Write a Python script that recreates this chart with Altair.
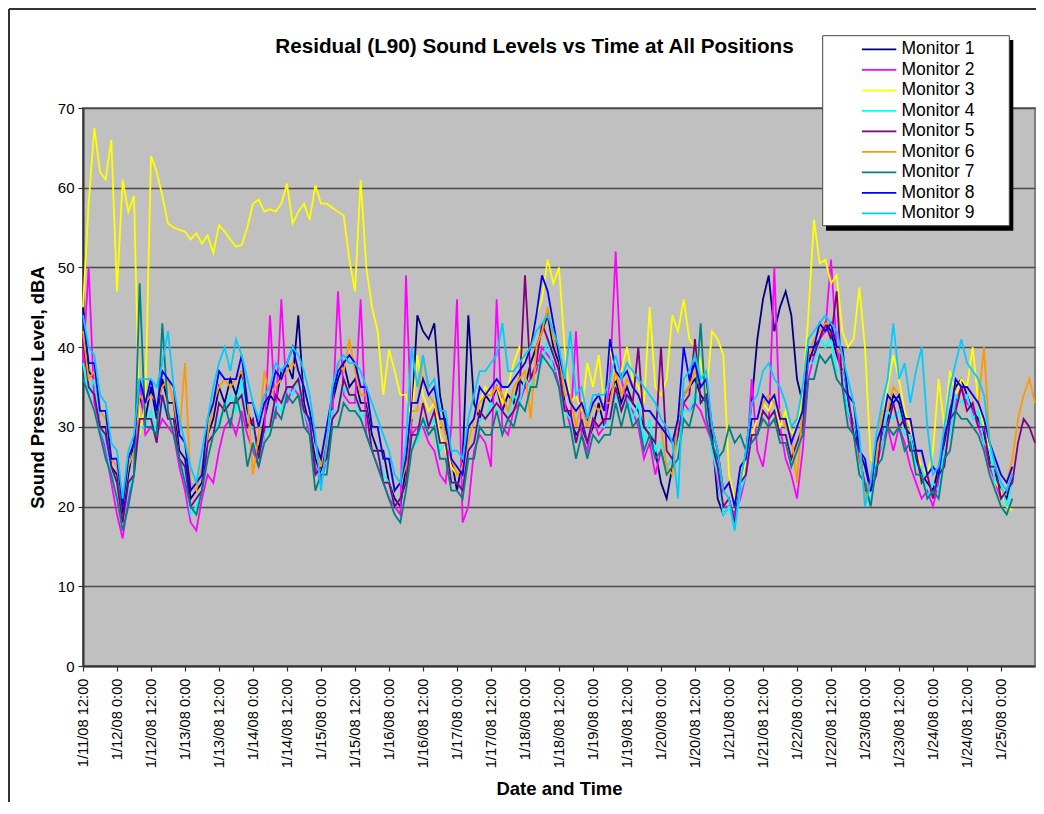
import altair as alt
import pandas as pd

FONT = "Liberation Sans, Arial, sans-serif"

TITLE = "Residual (L90) Sound Levels vs Time at All Positions"
X_TITLE = "Date and Time"
Y_TITLE = "Sound Pressure Level, dBA"

SERIES = ["Monitor 1", "Monitor 2", "Monitor 3", "Monitor 4", "Monitor 5",
          "Monitor 6", "Monitor 7", "Monitor 8", "Monitor 9"]
COLORS = ["#000080", "#FF00FF", "#FFFF00", "#00FFFF", "#800080",
          "#FF9900", "#008080", "#0000FF", "#00CCFF"]

# hours after 1/11/08 12:00, one reading every 2 hours
HOURS = list(range(0, 337, 2))

TICK_HOURS = [0, 12, 24, 36, 48, 60, 72, 84, 96, 108, 120, 132, 144, 156,
              168, 180, 192, 204, 216, 228, 240, 252, 264, 276, 288, 300, 312, 324]
TICK_LABELS = ["1/11/08 12:00", "1/12/08 0:00", "1/12/08 12:00", "1/13/08 0:00",
               "1/13/08 12:00", "1/14/08 0:00", "1/14/08 12:00", "1/15/08 0:00",
               "1/15/08 12:00", "1/16/08 0:00", "1/16/08 12:00", "1/17/08 0:00",
               "1/17/08 12:00", "1/18/08 0:00", "1/18/08 12:00", "1/19/08 0:00",
               "1/19/08 12:00", "1/20/08 0:00", "1/20/08 12:00", "1/21/08 0:00",
               "1/21/08 12:00", "1/22/08 0:00", "1/22/08 12:00", "1/23/08 0:00",
               "1/23/08 12:00", "1/24/08 0:00", "1/24/08 12:00", "1/25/08 0:00"]
Y_TICKS = [0, 10, 20, 30, 40, 50, 60, 70]

M1 = [45,37,36,30,30,25,24,19,24,28,34,31,
      35,31,36,33,33,27,26,21,22,23,29,31,
      35,33,36,34,37,32,30,27,31,34,33,37,
      38,36,44,33,30,26,24,29,33,36,38,35,
      36,33,33,29,27,27,23,21,20,25,31,44,
      42,41,43,34,30,26,22,26,44,33,31,34,
      33,35,32,34,33,36,35,38,40,42,44,40,
      38,33,31,29,30,28,30,33,30,34,36,33,
      35,33,32,30,29,27,23,21,25,31,34,35,
      36,34,33,29,21,19,20,19,22,27,33,41,
      46,49,42,45,47,44,36,33,38,40,41,43,
      42,39,37,33,30,27,25,22,26,29,31,34,
      33,30,29,26,24,23,22,25,28,32,35,36,
      34,32,31,29,26,24,22,21,24]

M2 = [38,50,33,30,27,23,19,16,21,24,36,29,
      30,29,31,30,29,25,22,18,17,21,24,23,
      27,30,31,29,32,29,27,25,29,44,31,46,
      33,35,34,32,29,25,23,26,31,47,34,33,
      33,46,29,27,25,23,21,20,19,49,29,30,
      30,28,27,24,23,30,46,18,20,27,29,28,
      25,46,30,29,32,33,35,36,37,40,39,38,
      35,33,30,42,29,27,31,29,30,36,52,36,
      33,32,30,26,28,24,27,25,26,29,33,32,
      33,32,30,28,23,20,20,19,21,24,36,27,
      25,30,50,30,26,24,21,27,36,39,41,42,
      51,40,36,32,29,26,23,22,25,28,30,27,
      30,28,25,23,21,22,20,23,26,30,33,35,
      33,32,30,28,25,23,21,22,24]

M3 = [45,58,67.5,62,61,66,47,61,57,59,29,33,
      64,62,59,55.5,55,54.7,54.5,53.5,54.3,53,54,51.8,
      55.3,54.5,53.5,52.6,52.8,55,58,58.5,57,57.3,57,58,
      60.5,55.5,57,58,56,60.3,58,58,57.5,57,56.5,51,
      47,61,50,45,42,34,39.7,37,34,34,31,39,
      34,32,33,29,27,25,24,25,28,31,33,35,
      34,35,33,35,38,40,38,41,44,46,51,48,
      50,40,33,34,32,38,35,39,33,40,36,37,
      40,36,35,33,45,35,34,36,44,42,46,41,
      40,38,34,42,41,39,24,21,22,26,29,31,
      33,32,34,30,32,29,30,34,44,56,50.5,51,
      48,49,42,40,41,47.5,40,26,25,30,35,39,
      36,32,30,27,25,24,27,36,30,37,34,36,
      35,40,33,30,27,23,22,20,19.5]

M4 = [38,34,36,30,28,24,23,18,22,24,30,30,
      32,29,33,31,31,26,24,19,20,22,28,29,
      31,32,34,32,36,30,30,26,29,30,33,32,
      35,34,36,32,30,24,24,26,32,32,35,34,
      34,31,32,27,27,24,23,20,21,23,28,28,
      31,30,31,27,28,23,23,22,27,28,31,31,
      33,32,32,31,34,33,36,35,38,38,41,37,
      37,32,31,28,31,28,31,30,30,31,34,32,
      34,31,33,28,31,27,28,25,26,28,32,32,
      34,33,33,27,24,19,20,17,22,24,29,29,
      32,31,32,29,29,26,28,30,38,38,41,40,
      41,37,37,32,30,24,23,20,26,28,32,31,
      32,29,29,25,25,21,23,22,27,29,34,33,
      34,31,32,28,27,23,23,20,23]

M5 = [41,35,34,30,29,25,23,18,23,24,31,31,
      31,28,34,31,31,26,25,20,21,22,28,29,
      33,32,33,33,34,30,31,26,30,30,34,33,
      35,35,36,32,31,24,25,26,31,32,36,34,
      34,32,32,27,27,23,23,20,21,23,29,29,
      33,30,32,28,28,23,23,22,27,28,32,31,
      32,33,32,31,32,34,49,36,38,43,41,39,
      37,32,32,28,31,28,31,30,31,31,35,32,
      34,33,40,30,29,28,40,27,26,29,33,34,
      41,33,34,28,25,20,21,18,23,24,29,29,
      32,31,32,29,29,26,28,30,39,39,41,43,
      41,47,35,34,29,27,22,22,24,30,30,33,
      30,31,27,27,23,24,21,24,25,31,32,35,
      32,33,30,30,25,25,21,22,23,28,31,30,28]

M6 = [42,36,37,32,31,26,25,20,25,27,34,33,
      34,33,35,36,33,29,38,23,22,25,29,33,
      35,36,35,36,37,34,24,29,37,34,35,36,
      37,38,37,35,32,28,25,29,34,38,37,41,
      37,34,34,30,30,26,26,22,23,25,32,32,
      39,34,33,31,29,26,24,25,28,31,33,34,
      34,35,34,32,35,36,37,31,40,42,45,41,
      39,34,34,30,33,30,33,32,33,33,37,34,
      36,35,34,32,32,31,30,25,24,31,34,35,
      37,35,36,30,27,22,23,20,25,26,31,31,
      33,34,33,32,30,29,23,33,39,41,42,43,
      43,40,39,34,33,27,21,24,26,32,32,35,
      34,31,31,27,27,24,25,24,29,31,36,35,
      35,34,33,40,28,26,24,23,26,31,34,36,33]

M7 = [36,34,32,29,26,24,21,17,20,24,48,30,
      30,29,43,32,29,26,23,20,19,22,26,29,
      30,33,30,34,31,25,28,25,28,29,32,31,
      34,33,34,30,29,22,24,24,30,30,33,32,
      32,31,29,27,25,23,21,19,18,22,27,29,
      31,29,30,26,26,22,22,21,26,26,30,29,
      29,32,29,31,30,33,32,35,35,39,38,37,
      35,30,30,26,29,26,29,28,29,29,33,30,
      33,30,31,27,29,26,27,24,25,26,31,30,
      33,43,31,28,26,27,30,28,29,27,28,29,
      31,30,31,28,28,25,27,29,36,36,39,38,
      39,36,35,30,29,24,23,20,25,26,30,29,
      30,27,28,24,24,21,22,21,26,27,32,31,
      31,30,29,27,24,22,20,19,21]

M8 = [44,38,38,32,32,26,26,20,26,28,36,33,
      36,32,37,36,35,29,28,22,23,24,31,33,
      37,36,36,36,39,33,33,30,33,34,37,36,
      38,40,37,35,32,28,26,30,34,37,38,39,
      38,35,35,30,30,26,26,22,23,26,33,33,
      36,34,35,31,31,26,25,24,30,31,35,34,
      35,36,35,35,36,37,38,40,44,49,47,43,
      39,36,33,32,33,31,33,34,32,41,37,36,
      37,35,34,32,32,31,30,29,28,31,40,36,
      38,35,36,30,27,22,23,20,25,26,31,31,
      34,33,34,31,31,28,30,32,40,40,43,42,
      43,40,40,34,33,27,26,22,28,30,34,33,
      34,31,31,27,27,24,25,24,29,31,36,35,
      35,34,33,31,28,26,24,23,25]

M9 = [44,40,39,34,33,28,27,21,27,29,36,36,
      36,35,38,42,35,31,28,25,23,27,31,35,
      38,40,37,41,39,36,33,31,34,35,38,37,
      38,40,39,37,34,29,22,28,35,38,39,38,
      38,37,35,33,31,29,27,24,23,28,40,35,
      39,35,36,32,32,27,27,26,31,34,37,37,
      38,39,43,37,37,38,39,40,42,43,44,42,
      40,36,42,34,35,31,34,34,34,36,39,36,
      38,37,36,35,34,33,31,30,28,21,36,37,
      39,36,37,30,27,22,21,17,23,27,33,34,
      37,38,36,35,33,30,31,35,41,42,43,44,
      43,42,39,36,33,29,20,23,29,33,36,43,
      36,38,33,37,40,30,24,25,30,35,38,41,
      38,37,36,34,28,25,23,22,24]

VALUES = [M1, M2, M3, M4, M5, M6, M7, M8, M9]

rows = []
for name, vals in zip(SERIES, VALUES):
    for h, v in zip(HOURS, vals):
        rows.append({"h": h, "v": v, "series": name})
df = pd.DataFrame(rows)

label_expr = "[" + ",".join("'" + s + "'" for s in TICK_LABELS) + "][round(datum.value / 12)]"

one = pd.DataFrame({"k": [0]})

lines = alt.Chart(df).mark_line(strokeWidth=1.8).encode(
    x=alt.X("h:Q",
            scale=alt.Scale(domain=[0, 336], nice=False, zero=False),
            axis=alt.Axis(values=TICK_HOURS, labelExpr=label_expr, labelAngle=270,
                          labelAlign="right", labelBaseline="middle",
                          labelFont=FONT, labelFontSize=14.7, labelColor="black",
                          labelPadding=7, labelOverlap=False, labelFlush=False,
                          tickSize=5, tickColor="#333333", tickWidth=1.2,
                          domainColor="#333333", domainWidth=2, grid=False,
                          title=X_TITLE, titleFont=FONT, titleFontSize=18.5,
                          titleFontWeight="bold", titleColor="black", titlePadding=12)),
    y=alt.Y("v:Q",
            scale=alt.Scale(domain=[0, 70], nice=False),
            axis=alt.Axis(values=Y_TICKS, labelFont=FONT, labelFontSize=15,
                          labelColor="black", labelPadding=4,
                          tickSize=5, tickColor="#333333", tickWidth=1.2,
                          domainColor="#333333", domainWidth=2,
                          grid=True, gridColor="#4a4a4a", gridWidth=1.4,
                          title=Y_TITLE, titleFont=FONT, titleFontSize=18.5,
                          titleFontWeight="bold", titleColor="black", titlePadding=10)),
    color=alt.Color("series:N",
                    scale=alt.Scale(domain=SERIES, range=COLORS),
                    legend=alt.Legend(title=None, orient="none", legendX=761.35, legendY=-67.45,
                                      padding=0, symbolType="M2.5,0L12.35,0", symbolSize=49,
                                      symbolStrokeWidth=1.8, labelFont=FONT, labelFontSize=17.5,
                                      labelColor="black", labelOffset=39.65, rowPadding=1.5,
                                      zindex=1)),
    order=alt.Order("h:Q"),
)

border_left = alt.Chart(one).mark_rule(color="#333333", strokeWidth=2).encode(
    x=alt.value(-74), y=alt.value(-99), y2=alt.value(706))
border_top = alt.Chart(one).mark_rule(color="#333333", strokeWidth=2).encode(
    x=alt.value(-74), x2=alt.value(953), y=alt.value(-99))

shadow = alt.Chart(one).mark_rect(color="black").encode(
    x=alt.value(743), x2=alt.value(930.3), y=alt.value(-68), y2=alt.value(122.7))
box = alt.Chart(one).mark_rect(fill="white", stroke="#444444", strokeWidth=1).encode(
    x=alt.value(739.7), x2=alt.value(926.3), y=alt.value(-72.3), y2=alt.value(117.7))

title = alt.Chart(pd.DataFrame({"t": [TITLE]})).mark_text(
    font=FONT, fontSize=20.7, fontWeight="bold", color="black",
    align="center", baseline="alphabetic").encode(
    text="t:N", x=alt.value(451.5), y=alt.value(-55.3))

chart = alt.layer(border_left, border_top, lines, shadow, box, title).properties(
    width=952, height=558,
    padding={"left": 75, "top": 100, "right": 1, "bottom": 136},
    autosize=alt.AutoSizeParams(type="none"),
    background="white",
).configure_view(fill="#C0C0C0", stroke="#808080", strokeWidth=2)

chart.save("out.html", embed_options={"renderer": "svg", "actions": False})
